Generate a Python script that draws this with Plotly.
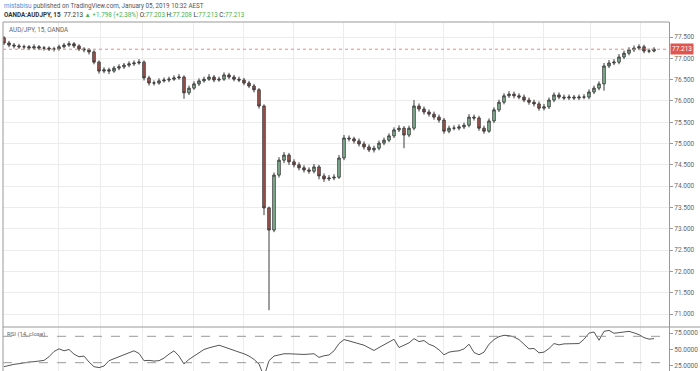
import plotly.graph_objects as go

# ---------------- data ----------------
opens = [77.48, 77.36, 77.31, 77.29, 77.27, 77.27, 77.24, 77.27, 77.24, 77.24,
         77.22, 77.22, 77.27, 77.31, 77.34, 77.29, 77.22, 77.20, 77.15, 76.91,
         76.70, 76.73, 76.70, 76.77, 76.80, 76.84, 76.87, 76.89, 76.91, 76.54,
         76.42, 76.42, 76.47, 76.49, 76.51, 76.54, 76.56, 76.19, 76.30, 76.40,
         76.47, 76.51, 76.56, 76.49, 76.51, 76.61, 76.56, 76.51, 76.49, 76.42,
         76.35, 76.26, 75.88, 73.49, 72.97, 74.26, 74.61, 74.73, 74.57, 74.50,
         74.43, 74.38, 74.35, 74.45, 74.24, 74.17, 74.19, 74.21, 74.66, 75.13,
         75.11, 75.06, 74.99, 74.92, 74.85, 74.89, 75.01, 75.08, 75.18, 75.32,
         75.36, 75.20, 75.36, 75.88, 75.81, 75.74, 75.69, 75.62, 75.55, 75.29,
         75.36, 75.36, 75.39, 75.43, 75.62, 75.60, 75.36, 75.29, 75.53, 75.79,
         75.97, 76.12, 76.16, 76.12, 76.09, 76.02, 75.97, 75.93, 75.83, 75.86,
         76.02, 76.14, 76.09, 76.07, 76.09, 76.07, 76.09, 76.09, 76.21, 76.30,
         76.40, 76.82, 76.89, 76.91, 77.03, 77.12, 77.20, 77.24, 77.27, 77.17,
         77.17]
closes = [77.36, 77.31, 77.29, 77.27, 77.27, 77.24, 77.27, 77.24, 77.24, 77.22,
          77.22, 77.27, 77.31, 77.34, 77.29, 77.22, 77.20, 77.15, 76.91, 76.70,
          76.73, 76.70, 76.77, 76.80, 76.84, 76.87, 76.89, 76.91, 76.54, 76.42,
          76.42, 76.47, 76.49, 76.51, 76.54, 76.56, 76.19, 76.30, 76.40, 76.47,
          76.51, 76.56, 76.49, 76.51, 76.61, 76.56, 76.51, 76.49, 76.42, 76.35,
          76.26, 75.88, 73.49, 72.97, 74.26, 74.61, 74.73, 74.57, 74.50, 74.43,
          74.38, 74.35, 74.45, 74.24, 74.17, 74.19, 74.21, 74.66, 75.13, 75.11,
          75.06, 74.99, 74.92, 74.85, 74.89, 75.01, 75.08, 75.18, 75.32, 75.36,
          75.20, 75.36, 75.88, 75.81, 75.74, 75.69, 75.62, 75.55, 75.29, 75.36,
          75.36, 75.39, 75.43, 75.62, 75.60, 75.36, 75.29, 75.53, 75.79, 75.97,
          76.12, 76.16, 76.12, 76.09, 76.02, 75.97, 75.93, 75.83, 75.86, 76.02,
          76.14, 76.09, 76.07, 76.09, 76.07, 76.09, 76.09, 76.21, 76.30, 76.40,
          76.82, 76.89, 76.91, 77.03, 77.12, 77.20, 77.24, 77.27, 77.17, 77.17,
          77.213]
highs = [77.52, 77.41, 77.36, 77.34, 77.32, 77.31, 77.33, 77.31, 77.29, 77.28,
         77.27, 77.32, 77.36, 77.40, 77.38, 77.33, 77.26, 77.24, 77.19, 76.95,
         76.79, 76.78, 76.82, 76.86, 76.89, 76.93, 76.95, 76.98, 76.95, 76.59,
         76.48, 76.53, 76.55, 76.57, 76.60, 76.63, 76.60, 76.36, 76.46, 76.53,
         76.57, 76.63, 76.61, 76.57, 76.67, 76.66, 76.61, 76.57, 76.54, 76.47,
         76.40, 76.30, 75.92, 73.52, 74.32, 74.68, 74.80, 74.78, 74.63, 74.56,
         74.49, 74.44, 74.52, 74.50, 74.30, 74.26, 74.28, 74.73, 75.20, 75.19,
         75.16, 75.12, 75.05, 74.98, 74.95, 75.07, 75.14, 75.24, 75.38, 75.43,
         75.41, 75.42, 76.02, 75.94, 75.87, 75.80, 75.75, 75.68, 75.60, 75.42,
         75.43, 75.45, 75.49, 75.69, 75.68, 75.65, 75.42, 75.59, 75.85, 76.03,
         76.18, 76.23, 76.22, 76.18, 76.15, 76.08, 76.03, 75.99, 75.93, 76.08,
         76.20, 76.20, 76.15, 76.15, 76.14, 76.15, 76.16, 76.27, 76.36, 76.46,
         76.89, 76.96, 76.98, 77.10, 77.18, 77.26, 77.30, 77.33, 77.32, 77.23,
         77.26]
lows = [77.31, 77.26, 77.23, 77.22, 77.21, 77.19, 77.20, 77.19, 77.18, 77.17,
        77.16, 77.18, 77.23, 77.27, 77.24, 77.17, 77.14, 77.09, 76.86, 76.64,
        76.65, 76.63, 76.66, 76.72, 76.75, 76.79, 76.82, 76.85, 76.48, 76.36,
        76.36, 76.38, 76.43, 76.44, 76.47, 76.50, 76.05, 76.14, 76.26, 76.35,
        76.43, 76.47, 76.44, 76.45, 76.47, 76.51, 76.46, 76.44, 76.37, 76.30,
        76.20, 75.82, 73.32, 71.09, 72.92, 74.20, 74.54, 74.50, 74.44, 74.37,
        74.32, 74.29, 74.30, 74.16, 74.10, 74.12, 74.14, 74.17, 74.61, 75.05,
        75.00, 74.93, 74.86, 74.80, 74.79, 74.84, 74.96, 75.03, 75.13, 75.27,
        74.89, 75.15, 75.31, 75.75, 75.68, 75.63, 75.56, 75.49, 75.23, 75.24,
        75.31, 75.31, 75.34, 75.38, 75.54, 75.30, 75.23, 75.25, 75.48, 75.74,
        75.92, 76.07, 76.06, 76.04, 75.97, 75.91, 75.87, 75.77, 75.78, 75.81,
        75.97, 76.04, 76.02, 76.02, 76.02, 76.02, 76.04, 76.04, 76.16, 76.25,
        76.24, 76.77, 76.84, 76.86, 76.98, 77.07, 77.15, 77.19, 77.12, 77.12,
        77.14]
rsi = [24, 26, 27.5, 28.5, 30, 31, 31.5, 32.5, 33.5, 39,
       47, 51, 48, 50, 43, 39, 40, 31, 24, 22.5,
       25, 33, 36, 38.5, 42.5, 45, 48, 44, 33, 33.5,
       32.5, 33, 37, 43, 48, 40, 28, 35, 40, 45.5,
       50, 52.5, 54.5, 56.5, 54, 51, 48.5, 46, 43.5, 40,
       35, 28, 9, 33, 40, 42, 43.5, 43.5, 43, 42,
       42.5, 43, 43.5, 38, 40.5, 41.7, 48, 59, 65, 63,
       60.5, 58.5, 56.5, 52.5, 48.5, 53, 57, 62, 65.5, 53,
       57, 60, 66.5, 62, 63.5, 58, 55, 49.5, 42, 46,
       47.3, 48, 51, 58, 45.5, 42, 46, 58, 65, 69.5,
       71.5, 71, 69, 65, 58, 51, 51.5, 45, 46, 51.5,
       59, 57, 58.5, 58.8, 58, 59, 65.5, 74.8, 76.5, 64,
       77.5, 79, 74.6, 75.4, 77.3, 77.5, 75.2, 72.5, 68, 65.7,
       66.5]
candle_idx = list(range(len(closes)))

price_ticks = [71.0, 71.5, 72.0, 72.5, 73.0, 73.5, 74.0, 74.5, 75.0, 75.5,
               76.0, 76.5, 77.0, 77.5]
rsi_ticks = [25, 50, 75]
rsi_bands = [70, 30]
time_grid = [10.8, 19.2, 27.6, 37.8, 47.8, 57.8, 67.8, 78.2, 87.8, 97.8,
             107.8, 117.2, 127.2]
last_price = 77.213

# ---------------- figure ----------------
FONT = "Roboto"
fig = go.Figure()

fig.add_trace(go.Candlestick(
    x=candle_idx, open=opens, high=highs, low=lows, close=closes,
    xaxis="x", yaxis="y", whiskerwidth=0,
    increasing=dict(line=dict(color="#3d3d3d", width=1), fillcolor="#8cc9a0"),
    decreasing=dict(line=dict(color="#3d3d3d", width=1), fillcolor="#b5524a"),
    showlegend=False, hoverinfo="skip"))

fig.add_trace(go.Scatter(
    x=candle_idx, y=rsi, xaxis="x2", yaxis="y2", mode="lines",
    line=dict(color="#555555", width=1), showlegend=False, hoverinfo="skip"))

split = 44 / 349
xr = [-0.2, 133]
fig.update_layout(
    width=700, height=371,
    margin=dict(l=3, r=31, t=22, b=0),
    paper_bgcolor="white", plot_bgcolor="white",
    font=dict(family=FONT, size=7, color="#555"),
    xaxis=dict(domain=[0, 1], range=xr, anchor="y", rangeslider=dict(visible=False),
               tickvals=time_grid, showticklabels=False, ticks="",
               showgrid=True, gridcolor="#ececec", gridwidth=1, zeroline=False),
    xaxis2=dict(domain=[0, 1], range=xr, anchor="y2",
                tickvals=time_grid, showticklabels=False, ticks="",
                showgrid=True, gridcolor="#ececec", gridwidth=1, zeroline=False),
    yaxis=dict(domain=[split, 1], range=[70.695, 77.852], side="right",
               tickvals=price_ticks, tickformat=".3f", ticks="outside", ticklen=3,
               tickcolor="#999", showgrid=True, gridcolor="#ececec",
               showline=True, linecolor="#999", linewidth=1, zeroline=False,
               tickfont=dict(size=6.5, color="#666")),
    yaxis2=dict(domain=[0, split], range=[17.4, 84.1], side="right",
                tickvals=rsi_ticks, tickformat=".4f", ticks="outside", ticklen=3,
                tickcolor="#999", showgrid=False,
                showline=True, linecolor="#999", linewidth=1, zeroline=False,
                tickfont=dict(size=6.5, color="#666")),
)

shapes = []
# frame
shapes.append(dict(type="line", xref="paper", yref="paper", x0=0, x1=0, y0=0, y1=1,
                   line=dict(color="#999", width=1)))
shapes.append(dict(type="line", xref="paper", yref="paper", x0=0, x1=1, y0=1, y1=1,
                   line=dict(color="#999", width=1)))
shapes.append(dict(type="line", xref="paper", yref="paper", x0=0, x1=1.0466,
                   y0=split, y1=split, line=dict(color="#999", width=1)))
# last price line
shapes.append(dict(type="line", xref="x", yref="y", x0=xr[0], x1=xr[1],
                   y0=last_price, y1=last_price,
                   line=dict(color="#e58a85", width=1, dash="dot")))
# RSI bands
for b in rsi_bands:
    shapes.append(dict(type="line", xref="x2", yref="y2", x0=xr[0], x1=xr[1],
                       y0=b, y1=b, line=dict(color="#999", width=1, dash="dash")))
fig.update_layout(shapes=shapes)

green = "#4caf50"
ann = [
    dict(xref="paper", yref="paper", x=0, y=1.046, xanchor="left", yanchor="middle",
         xshift=-1, showarrow=False, font=dict(family=FONT, size=6.3, color="#555"),
         text="<span style='color:#4a90d9'>mistabisu</span> published on TradingView.com, January 05, 2019 10:32 AEST"),
    dict(xref="paper", yref="paper", x=0, y=1.02, xanchor="left", yanchor="middle",
         xshift=-1, showarrow=False, font=dict(family=FONT, size=6.3, color="#333"),
         text=("<b>OANDA:AUDJPY, 15</b>  77.213 <span style='color:%s'>▲ +1.798 (+2.38%%)</span> "
               "O:<span style='color:%s'>77.203</span> H:<span style='color:%s'>77.208</span> "
               "L:<span style='color:%s'>77.213</span> C:<span style='color:%s'>77.213</span>")
              % (green, green, green, green, green)),
    dict(xref="paper", yref="paper", x=0, y=0.978, xanchor="left", yanchor="middle",
         xshift=4, showarrow=False, font=dict(family=FONT, size=6.3, color="#666"),
         text="AUD/JPY, 15, OANDA"),
    dict(xref="paper", yref="paper", x=0, y=split - 0.02, xanchor="left", yanchor="middle",
         xshift=2, showarrow=False, font=dict(family=FONT, size=6, color="#666"),
         text="RSI (14, close)"),
    dict(xref="paper", yref="y", x=1, y=last_price, xanchor="left", yanchor="middle",
         xshift=1, showarrow=False, bgcolor="#e0564f", borderpad=1,
         font=dict(family=FONT, size=6.5, color="white"), text="77.213"),
]
fig.update_layout(annotations=ann)

fig.write_html("out.html")
